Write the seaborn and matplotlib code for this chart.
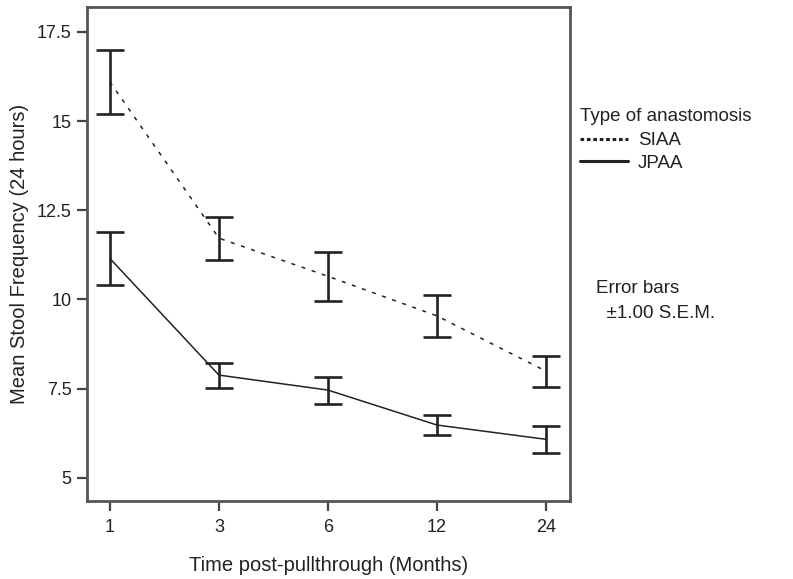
import matplotlib
matplotlib.use("Agg")
import matplotlib.pyplot as plt
import seaborn as sns
import pandas as pd
from matplotlib.lines import Line2D

# Follow-up times (months) and stool-frequency summaries
months = ["1", "3", "6", "12", "24"]
siaa_mean = [16.1, 11.72, 10.65, 9.54, 7.99]
siaa_sem = [0.9, 0.60, 0.69, 0.59, 0.43]
jpaa_mean = [11.15, 7.88, 7.46, 6.48, 6.08]
jpaa_sem = [0.75, 0.35, 0.38, 0.28, 0.38]
groups = ["SIAA", "JPAA"]

sns.set_theme(style="white")
plt.rcParams["font.family"] = ["Liberation Sans", "DejaVu Sans"]

pos = list(range(len(months)))
df = pd.DataFrame({
    "pos": pos * 2,
    "mean": siaa_mean + jpaa_mean,
    "sem": siaa_sem + jpaa_sem,
    "type": [groups[0]] * len(months) + [groups[1]] * len(months),
})

fig = plt.figure(figsize=(7.93, 5.79), dpi=100)
ax = fig.add_axes([0.1097, 0.1347, 0.6091, 0.8532])

ink = "#222222"
sns.lineplot(data=df, x="pos", y="mean", style="type",
             dashes={"SIAA": (2.6, 4.4), "JPAA": ""},
             color=ink, linewidth=1.1, ax=ax, legend=False)

for g in groups:
    sub = df[df["type"] == g]
    ax.errorbar(sub["pos"], sub["mean"], yerr=sub["sem"], fmt="none",
                ecolor=ink, elinewidth=1.9, capsize=10, capthick=1.9)

ax.set_xlim(-0.21, 4.22)
ax.set_ylim(4.35, 18.2)
ax.set_xticks(pos)
ax.set_xticklabels(months)
ax.set_yticks([5, 7.5, 10, 12.5, 15, 17.5])
ax.set_yticklabels(["5", "7.5", "10", "12.5", "15", "17.5"])

for s in ax.spines.values():
    s.set_color("#555555")
    s.set_linewidth(2.0)
ax.tick_params(axis="both", direction="out", length=7, width=1.6,
               color="#444444", labelsize=13, labelcolor=ink, pad=4,
               bottom=True, left=True)
ax.tick_params(axis="x", pad=6)
ax.set_xlabel("Time post-pullthrough (Months)", fontsize=14.5, color=ink, labelpad=14)
ax.set_ylabel("Mean Stool Frequency (24 hours)", fontsize=14.5, color=ink, labelpad=6)

handles = [Line2D([], [], color=ink, linestyle=(0, (1.2, 0.9)), linewidth=2.2),
           Line2D([], [], color=ink, linestyle="-", linewidth=2.2)]
leg = ax.legend(handles, groups, title="Type of anastomosis",
                loc="upper left", bbox_to_anchor=(1.02, 0.795),
                frameon=False, fontsize=13.5, title_fontsize=13.5,
                handlelength=2.6, handletextpad=0.5, labelspacing=0.28,
                borderaxespad=0.0, borderpad=0.0)
leg._legend_box.align = "left"
leg._legend_box.sep = 5
for t in leg.get_texts():
    t.set_color(ink)
leg.get_title().set_color(ink)

fig.text(0.7515, 0.516, "Error bars\n  \u00b11.00 S.E.M.", fontsize=13.5,
         color=ink, va="top", ha="left", linespacing=1.6)

fig.savefig("out.png", dpi=100)
